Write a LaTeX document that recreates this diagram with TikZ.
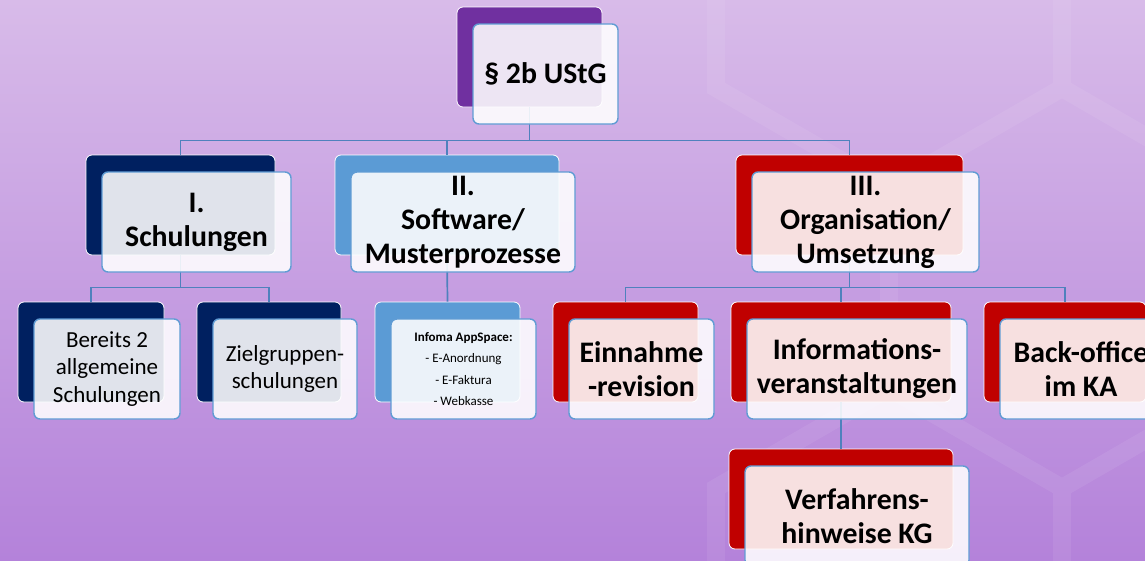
\documentclass[tikz,border=0pt]{standalone}
\usepackage{fontspec}
\setmainfont{Carlito}
\definecolor{bgtop}{RGB}{216,187,233}
\definecolor{bgbot}{RGB}{180,130,218}
\definecolor{navyc}{RGB}{0,32,96}
\definecolor{lblue}{RGB}{91,155,213}
\definecolor{redc}{RGB}{192,0,0}
\definecolor{purc}{RGB}{112,48,160}
\definecolor{frontline}{RGB}{96,156,212}
\definecolor{connc}{RGB}{79,129,189}
\begin{document}
\begin{tikzpicture}[x=1pt,y=-1pt]
\tikzset{
 backbox/.style={draw=white, line width=0.8pt, rounded corners=6pt, minimum height=100pt, inner sep=0pt},
 frontbox/.style={draw=frontline, line width=1.4pt, rounded corners=6pt, fill=white, fill opacity=0.88, text opacity=1, minimum height=100pt, inner sep=0pt, align=center, text=black},
 conn/.style={draw=connc, line width=1.7pt},
 big/.style={font=\fontsize{29.8}{34}\selectfont\bfseries},
 reg/.style={font=\fontsize{23}{27.5}\selectfont},
 small/.style={font=\fontsize{13}{21.5}\selectfont},
 hexband/.style={draw=white, draw opacity=0.07, line width=18pt, line join=miter},
}
\useasboundingbox (0,0) rectangle (1145,560);
\clip (0,0) rectangle (1145,560);
\shade[top color=bgtop, bottom color=bgbot] (0,0) rectangle (1145,560);
% faint hexagon pattern
\draw[hexband] \foreach \cx/\cy in {1062/288, 889/-12, 1235/-12, 889/588, 1235/588}
 { (\cx,\cy-200) -- (\cx+173,\cy-100) -- (\cx+173,\cy+100) -- (\cx,\cy+200) -- (\cx-173,\cy+100) -- (\cx-173,\cy-100) -- cycle };

% back boxes
\node[backbox, fill=purc, minimum width=145pt] (topB) at (529.5,57) {};
\node[backbox, fill=navyc, minimum width=189pt] (IB) at (180.5,205) {};
\node[backbox, fill=lblue, minimum width=224pt] (IIB) at (447,205) {};
\node[backbox, fill=redc, minimum width=227pt] (IIIB) at (849.5,205) {};
\node[backbox, fill=navyc, minimum width=146pt] (bereitsB) at (91,352) {};
\node[backbox, fill=navyc, minimum width=144pt] (zielB) at (269,352) {};
\node[backbox, fill=lblue, minimum width=145pt] (infomaB) at (447.5,352) {};
\node[backbox, fill=redc, minimum width=145pt] (einB) at (625.5,352) {};
\node[backbox, fill=redc, minimum width=220pt] (infoB) at (841,352) {};
\node[backbox, fill=redc, minimum width=162pt] (backB) at (1065,352) {};
\node[backbox, fill=redc, minimum width=224pt] (verfB) at (841,499) {};

% connectors
\draw[conn] (topB.south) -- ++(0,33) -| (IB.north);
\draw[conn] (topB.south) -- ++(0,33) -| (IIB.north);
\draw[conn] (topB.south) -- ++(0,33) -| (IIIB.north);
\draw[conn] (IB.south) -- ++(0,32) -| (bereitsB.north);
\draw[conn] (IB.south) -- ++(0,32) -| (zielB.north);
\draw[conn] (IIB.south) -- (infomaB.north);
\draw[conn] (IIIB.south) -- ++(0,32) -| (einB.north);
\draw[conn] (IIIB.south) -- ++(0,32) -| (infoB.north);
\draw[conn] (IIIB.south) -- ++(0,32) -| (backB.north);
\draw[conn] (infoB.south) -- (verfB.north);

% front boxes
\node[frontbox, big, minimum width=145pt] (topF) at (545.5,74) {§ 2b UStG};
\node[frontbox, big, minimum width=189pt] (IF) at (196.5,222) {I.\\Schulungen};
\node[frontbox, big, minimum width=224pt] (IIF) at (463,222) {II.\\Software/\\Musterprozesse};
\node[frontbox, big, minimum width=227pt] (IIIF) at (865.5,222) {III.\\Organisation/\\Umsetzung};
\node[frontbox, reg, minimum width=146pt] (bereitsF) at (107,369) {Bereits 2\\allgemeine\\Schulungen};
\node[frontbox, reg, minimum width=144pt] (zielF) at (285,369) {Zielgruppen-\\schulungen};
\node[frontbox, small, minimum width=145pt] (infomaF) at (463.5,369) {\textbf{Infoma AppSpace:}\\- E-Anordnung\\- E-Faktura\\- Webkasse};
\node[frontbox, big, minimum width=145pt] (einF) at (641.5,369) {Einnahme\\-revision};
\node[frontbox, big, minimum width=220pt] (infoF) at (857,369) {Informations-\\veranstaltungen};
\node[frontbox, big, minimum width=162pt] (backF) at (1081,369) {Back-office\\im KA};
\node[frontbox, big, minimum width=224pt] (verfF) at (857,516) {Verfahrens-\\hinweise KG};
\end{tikzpicture}
\end{document}
